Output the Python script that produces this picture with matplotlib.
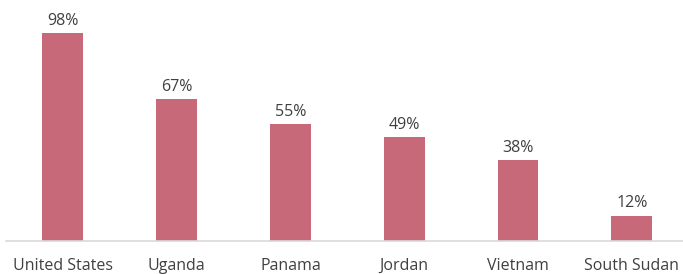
import matplotlib
matplotlib.use("Agg")
import matplotlib.pyplot as plt

categories = ["United States", "Uganda", "Panama", "Jordan", "Vietnam", "South Sudan"]
values = [98, 67, 55, 49, 38, 12]
value_labels = ["98%", "67%", "55%", "49%", "38%", "12%"]

plt.rcParams['font.family'] = ['Open Sans', 'DejaVu Sans']

fig = plt.figure(figsize=(6.83, 2.74), dpi=100)
ax = fig.add_axes([6/683, 33/274, 1 - 6/683, 233.2/274])
x = list(range(len(categories)))
bars = ax.bar(x, values, width=0.36, color="#C8697A")
for b, lab in zip(bars, value_labels):
    ax.annotate(lab, (b.get_x() + b.get_width()/2, b.get_height()), xytext=(0, 3),
                textcoords="offset points", ha="center", va="bottom", fontsize=11.5, color="#404040")
ax.set_xlim(-0.5, 5.45)
ax.set_ylim(0, 110)
ax.set_xticks(x)
ax.set_xticklabels(categories, fontsize=11.5, color="#404040")
ax.tick_params(axis='x', length=0, pad=12)
ax.set_yticks([])
for s in ["top", "right", "left"]:
    ax.spines[s].set_visible(False)
ax.spines["bottom"].set_color("#D9D9D9")
ax.spines["bottom"].set_linewidth(1.2)
fig.savefig("out.png", dpi=100)
